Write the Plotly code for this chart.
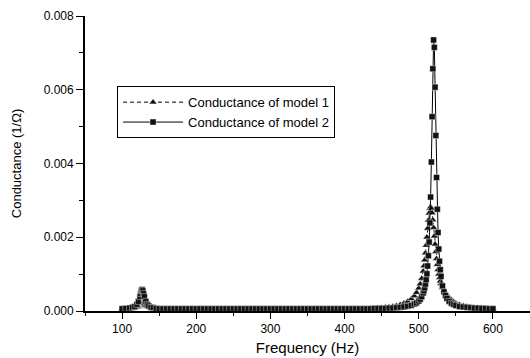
import plotly.graph_objects as go

# Frequency grid (Hz)
freq = [
    100, 105, 110, 114, 117, 120, 122, 124, 125, 126, 127, 128, 129, 130, 132, 134, 136, 139, 142, 146,
    150, 155, 160, 165, 170, 175, 180, 185, 190, 195,
    200, 205, 210, 215, 220, 225, 230, 235, 240, 245,
    250, 255, 260, 265, 270, 275, 280, 285, 290, 295,
    300, 305, 310, 315, 320, 325, 330, 335, 340, 345,
    350, 355, 360, 365, 370, 375, 380, 385, 390, 395,
    400, 405, 410, 415, 420, 425, 430, 435, 440, 445,
    450, 455, 460, 465, 470, 475, 480, 485, 490, 494,
    497, 500, 502, 504, 506, 507, 508, 509, 510, 511,
    512, 513, 514, 515, 516, 517, 518, 519, 520, 521,
    522, 523, 524, 525, 526, 527, 528, 529, 530, 532,
    534, 536, 538, 541, 544, 547, 550, 555, 560, 565,
    570, 575, 580, 585, 590, 595, 600,
]

# Conductance of model 1 (1/Ohm)
model1 = [
    0.00006, 0.00006, 0.00007, 0.00007, 0.00008, 0.00010, 0.00012, 0.00015, 0.00017, 0.00019,
    0.00021, 0.00022, 0.00021, 0.00019, 0.00015, 0.00012, 0.00010, 0.00008, 0.00007, 0.00006,
    0.00006, 0.00006, 0.00006, 0.00006, 0.00006, 0.00006, 0.00006, 0.00006, 0.00006, 0.00006,
    0.00006, 0.00006, 0.00006, 0.00006, 0.00006, 0.00006, 0.00006, 0.00006, 0.00006, 0.00006,
    0.00006, 0.00006, 0.00006, 0.00006, 0.00006, 0.00006, 0.00006, 0.00006, 0.00006, 0.00006,
    0.00006, 0.00006, 0.00006, 0.00006, 0.00006, 0.00006, 0.00006, 0.00006, 0.00006, 0.00006,
    0.00006, 0.00006, 0.00006, 0.00006, 0.00006, 0.00006, 0.00006, 0.00006, 0.00006, 0.00006,
    0.00006, 0.00006, 0.00006, 0.00006, 0.00006, 0.00006, 0.00007, 0.00007, 0.00007, 0.00008,
    0.00009, 0.00010, 0.00011, 0.00012, 0.00014, 0.00017, 0.00021, 0.00026, 0.00033, 0.00041,
    0.00050, 0.00062, 0.00073, 0.00088, 0.00108, 0.00122, 0.00138, 0.00157, 0.00178, 0.00200,
    0.00224, 0.00246, 0.00265, 0.00278, 0.00282, 0.00278, 0.00266, 0.00247, 0.00226, 0.00203,
    0.00181, 0.00161, 0.00142, 0.00126, 0.00112, 0.00100, 0.00090, 0.00081, 0.00074, 0.00063,
    0.00055, 0.00049, 0.00043, 0.00036, 0.00030, 0.00025, 0.00021, 0.00017, 0.00014, 0.00012,
    0.00010, 0.00009, 0.00008, 0.00008, 0.00007, 0.00007, 0.00006,
]

# Conductance of model 2 (1/Ohm)
model2 = [
    0.00006, 0.00007, 0.00008, 0.00010, 0.00012, 0.00018, 0.00026, 0.00039, 0.00047, 0.00055,
    0.00058, 0.00055, 0.00047, 0.00039, 0.00026, 0.00018, 0.00014, 0.00010, 0.00009, 0.00007,
    0.00006, 0.00006, 0.00006, 0.00006, 0.00006, 0.00006, 0.00006, 0.00006, 0.00006, 0.00006,
    0.00006, 0.00006, 0.00006, 0.00006, 0.00006, 0.00006, 0.00006, 0.00006, 0.00006, 0.00006,
    0.00006, 0.00006, 0.00006, 0.00006, 0.00006, 0.00006, 0.00006, 0.00006, 0.00006, 0.00006,
    0.00006, 0.00006, 0.00006, 0.00006, 0.00006, 0.00006, 0.00006, 0.00006, 0.00006, 0.00006,
    0.00006, 0.00006, 0.00006, 0.00006, 0.00006, 0.00006, 0.00006, 0.00006, 0.00006, 0.00006,
    0.00006, 0.00006, 0.00006, 0.00006, 0.00006, 0.00006, 0.00006, 0.00006, 0.00007, 0.00007,
    0.00007, 0.00007, 0.00008, 0.00008, 0.00009, 0.00010, 0.00011, 0.00013, 0.00015, 0.00019,
    0.00022, 0.00027, 0.00032, 0.00039, 0.00049, 0.00055, 0.00063, 0.00073, 0.00085, 0.00101,
    0.00122, 0.00150, 0.00187, 0.00239, 0.00309, 0.00404, 0.00527, 0.00657, 0.00735, 0.00715,
    0.00607, 0.00476, 0.00362, 0.00276, 0.00213, 0.00168, 0.00135, 0.00112, 0.00094, 0.00068,
    0.00052, 0.00042, 0.00034, 0.00026, 0.00021, 0.00018, 0.00015, 0.00012, 0.00011, 0.00010,
    0.00009, 0.00008, 0.00008, 0.00007, 0.00007, 0.00006, 0.00006,
]

x_ticks = [100, 200, 300, 400, 500, 600]
y_ticks = [0.000, 0.002, 0.004, 0.006, 0.008]
y_tick_text = ["0.000", "0.002", "0.004", "0.006", "0.008"]

FONT = "Arial, Liberation Sans, Helvetica, sans-serif"

fig = go.Figure()
fig.add_trace(go.Scatter(
    x=freq, y=model1, mode="lines+markers", name="Conductance of model 1",
    line=dict(color="black", width=1, dash="4px,3px"),
    marker=dict(symbol="triangle-up", size=7, color="#111111",
                line=dict(color="white", width=0.5)),
))
fig.add_trace(go.Scatter(
    x=freq, y=model2, mode="lines+markers", name="Conductance of model 2",
    line=dict(color="black", width=1),
    marker=dict(symbol="square", size=6, color="#111111",
                line=dict(color="white", width=0.4)),
))

fig.update_layout(
    width=530, height=358,
    margin=dict(l=85, r=0, t=16, b=47),
    paper_bgcolor="white", plot_bgcolor="white",
    font=dict(family=FONT, color="black", size=12),
    showlegend=True,
    legend=dict(
        x=0.072, y=0.762, xanchor="left", yanchor="top",
        bordercolor="black", borderwidth=1, bgcolor="white",
        font=dict(size=13, family=FONT, color="black"),
        itemwidth=60, tracegroupgap=0,
    ),
    xaxis=dict(
        range=[50, 650], tickvals=x_ticks, ticks="outside", ticklen=6,
        tickwidth=1.2, tickcolor="black", showline=True, linecolor="black",
        linewidth=1.5, showgrid=False, zeroline=False,
        minor=dict(ticks="outside", ticklen=3, tickcolor="black", dtick=50, tick0=0, showgrid=False),
        tickfont=dict(size=12, family=FONT),
        title=dict(text="Frequency (Hz)", font=dict(size=15, family=FONT), standoff=7),
    ),
    yaxis=dict(
        range=[0, 0.008], tickvals=y_ticks, ticktext=y_tick_text, ticks="outside", ticklen=7,
        tickwidth=1.2, tickcolor="black", showline=True, linecolor="black",
        linewidth=1.8, showgrid=False, zeroline=False,
        minor=dict(ticks="outside", ticklen=4, tickcolor="black", dtick=0.001, tick0=0, showgrid=False),
        tickfont=dict(size=12, family=FONT),
        title=dict(text="Conductance (1/Ω)", font=dict(size=13, family=FONT), standoff=19),
    ),
)

fig.write_html("out.html")
